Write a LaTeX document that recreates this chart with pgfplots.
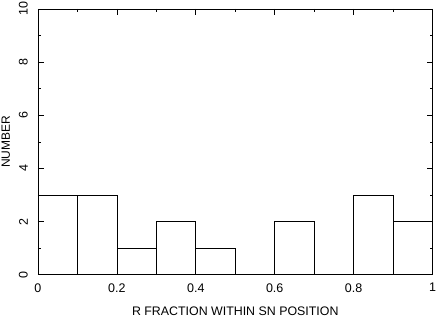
\documentclass[border=0pt]{standalone}
\usepackage{pgfplots}
\pgfplotsset{compat=1.18}
\usepackage{fontspec}
\setmainfont{Liberation Sans}
\begin{document}
\begin{tikzpicture}
\begin{axis}[
  name=ax,
  scale only axis,
  width=395pt, height=266pt,
  xmin=0, xmax=1, ymin=0, ymax=10,
  xtick={0,0.2,...,1.0},
  xticklabels={0,0.2,0.4,0.6,0.8,1},
  minor xtick={0.1,0.3,0.5,0.7,0.9},
  ytick={0,2,4,6,8,10},
  minor ytick={1,3,5,7,9},
  tick align=inside,
  xtick pos=both, ytick pos=both,
  major tick length=6pt,
  minor tick length=3pt,
  every tick/.style={black, line width=0.6pt},
  axis line style={black, line width=0.6pt},
  /pgf/number format/assume math mode=true,
  tick label style={font=\fontsize{12.5}{14}\selectfont, inner sep=0pt},
  xticklabel style={anchor=north},
  xticklabel shift=8.5pt,
  yticklabel style={rotate=90, anchor=south},
  yticklabel shift=10pt,
  xlabel={R FRACTION WITHIN SN POSITION},
  ylabel={NUMBER},
  every axis x label/.style={at={([yshift=-41pt]axis description cs:0.5,0)}, anchor=base, font=\fontsize{12.4}{14}\selectfont, inner sep=0pt},
  every axis y label/.style={at={([xshift=-28pt]axis description cs:0,0.5)}, rotate=90, anchor=base, font=\fontsize{12}{14}\selectfont, inner sep=0pt},
]
\addplot[ybar interval, draw=black, fill=none, line width=0.6pt] coordinates {
  (0.0,3) (0.1,3) (0.2,1) (0.3,2) (0.4,1) (0.5,0) (0.6,2) (0.7,0) (0.8,3) (0.9,2) (1.0,2)
};
\end{axis}
\path (ax.south west) ++(-38pt,-43pt) rectangle ([shift={(3pt,9pt)}]ax.north east);
\end{tikzpicture}
\end{document}
